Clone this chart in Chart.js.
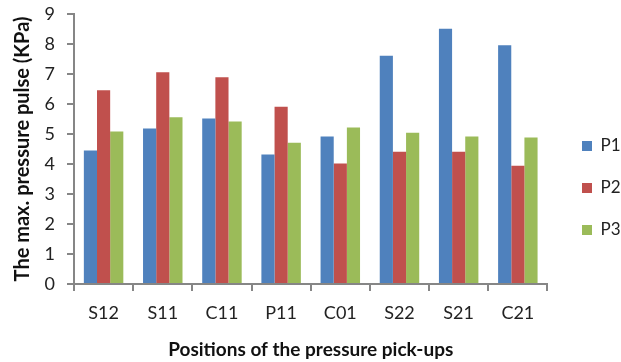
<!DOCTYPE html>
<html>
<head>
<meta charset="utf-8">
<script src="https://cdn.jsdelivr.net/npm/chart.js@4/dist/chart.umd.min.js"></script>
<style>
html,body{margin:0;padding:0;background:#fff;}
#c{display:block;}
</style>
</head>
<body>
<canvas id="c" width="621" height="362"></canvas>
<script>
const categories = ["S12","S11","C11","P11","C01","S22","S21","C21"];
const p1 = [4.45, 5.18, 5.52, 4.32, 4.92, 7.61, 8.51, 7.96];
const p2 = [6.46, 7.06, 6.89, 5.91, 4.02, 4.41, 4.41, 3.94];
const p3 = [5.08, 5.56, 5.42, 4.71, 5.22, 5.04, 4.92, 4.88];
const seriesNames = ["P1","P2","P3"];
const yTicks = [0,1,2,3,4,5,6,7,8,9];

const colors = ["#4F81BD","#C0504D","#9BBB59"];
const font = "Lato, 'Liberation Sans', sans-serif";

const legendShift = {
  id: 'legendShift',
  afterLayout(chart) {
    const lg = chart.legend;
    if (lg) {
      const dx = 582 - (lg.left + lg.options.labels.padding);
      lg.left += dx; lg.right += dx;
    }
  }
};

new Chart(document.getElementById('c'), {
  type: 'bar',
  data: {
    labels: categories,
    datasets: [p1,p2,p3].map((d,i)=>({
      label: seriesNames[i],
      data: d,
      backgroundColor: colors[i],
      borderColor: colors[i],
      borderWidth: 0,
      barPercentage: 1.0,
      categoryPercentage: 0.667
    }))
  },
  plugins: [legendShift],
  options: {
    responsive: false,
    animation: false,
    devicePixelRatio: 1,
    layout: { padding: { left: 0, right: 0, top: 14, bottom: 0 } },
    plugins: {
      tooltip: { enabled: false },
      legend: {
        position: 'right',
        align: 'center',
        maxWidth: 80,
        labels: {
          boxWidth: 10, boxHeight: 10,
          padding: 25,
          color: '#222',
          font: { family: font, size: 17 }
        }
      }
    },
    scales: {
      x: {
        afterFit: s => { s.height = 78; },
        grid: { display: true, drawOnChartArea: false, drawTicks: true, tickLength: 7, color: '#868686', lineWidth: 2 },
        border: { display: true, color: '#868686', width: 2 },
        ticks: { color: '#222', font: { family: font, size: 18 }, padding: 11, maxRotation: 0 },
        title: { display: true, text: 'Positions of the pressure pick-ups', color: '#111', font: { family: font, size: 19, weight: 'bold' }, padding: { top: 4, bottom: 1 } }
      },
      y: {
        min: 0, max: 9,
        afterFit: s => { s.width = 74; },
        afterBuildTicks: s => { s.ticks = yTicks.map(v=>({value:v})); },
        grid: { display: true, drawOnChartArea: false, drawTicks: true, tickLength: 7, color: '#868686', lineWidth: 2 },
        border: { display: true, color: '#868686', width: 2 },
        ticks: { color: '#222', font: { family: font, size: 18, lineHeight: 0.1 }, padding: 12 },
        title: { display: true, text: 'The max. pressure pulse (KPa)', color: '#111', font: { family: font, size: 20, weight: 'bold' }, padding: { top: 11, bottom: 4 } }
      }
    }
  }
});
</script>
</body>
</html>
